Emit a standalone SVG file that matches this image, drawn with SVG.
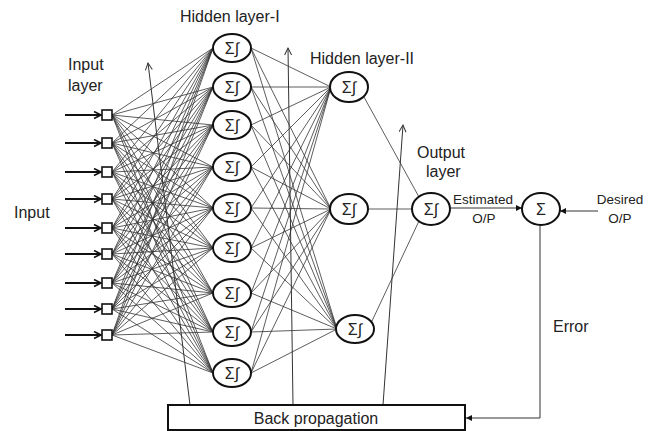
<svg xmlns="http://www.w3.org/2000/svg" width="655" height="431" viewBox="0 0 655 431">
<style>
text{font-family:"Liberation Sans",Arial,sans-serif;fill:#222}
.lbl{font-size:16px}
.sm{font-size:13.5px}
.sig{font-size:16px;text-anchor:middle}
.node{fill:#fff;stroke:#111;stroke-width:2}
.box{fill:#fff;stroke:#111;stroke-width:1.6}
.w{fill:none;stroke:#333;stroke-width:0.8}
.in{fill:none;stroke:#111;stroke-width:2}
.thin{fill:none;stroke:#333;stroke-width:1}
</style>
<defs>
<marker id="ah" markerWidth="10" markerHeight="10" refX="8" refY="4" orient="auto" markerUnits="userSpaceOnUse">
<path d="M1,0.5 L8,4 L1,7.5" fill="none" stroke="#111" stroke-width="1.6"/>
</marker>
<marker id="up" markerWidth="10" markerHeight="10" refX="8" refY="4" orient="auto" markerUnits="userSpaceOnUse">
<path d="M1,0.5 L8,4 L1,7.5" fill="none" stroke="#333" stroke-width="1"/>
</marker>
<marker id="tri" markerWidth="8" markerHeight="8" refX="6" refY="3" orient="auto" markerUnits="userSpaceOnUse">
<path d="M0,0 L6,3 L0,6Z" fill="#111"/>
</marker>
</defs>

<g id="connectors">
<path class="w" d="M112 115L213 48M112 115L213 87M112 115L213 125M112 115L213 167M112 115L213 208M112 115L213 248M112 115L213 293M112 115L213 332M112 115L213 373"/>
<path class="w" d="M112 143L213 48M112 143L213 87M112 143L213 125M112 143L213 167M112 143L213 208M112 143L213 248M112 143L213 293M112 143L213 332M112 143L213 373"/>
<path class="w" d="M112 172L213 48M112 172L213 87M112 172L213 125M112 172L213 167M112 172L213 208M112 172L213 248M112 172L213 293M112 172L213 332M112 172L213 373"/>
<path class="w" d="M112 199L213 48M112 199L213 87M112 199L213 125M112 199L213 167M112 199L213 208M112 199L213 248M112 199L213 293M112 199L213 332M112 199L213 373"/>
<path class="w" d="M112 228L213 48M112 228L213 87M112 228L213 125M112 228L213 167M112 228L213 208M112 228L213 248M112 228L213 293M112 228L213 332M112 228L213 373"/>
<path class="w" d="M112 254L213 48M112 254L213 87M112 254L213 125M112 254L213 167M112 254L213 208M112 254L213 248M112 254L213 293M112 254L213 332M112 254L213 373"/>
<path class="w" d="M112 283L213 48M112 283L213 87M112 283L213 125M112 283L213 167M112 283L213 208M112 283L213 248M112 283L213 293M112 283L213 332M112 283L213 373"/>
<path class="w" d="M112 309L213 48M112 309L213 87M112 309L213 125M112 309L213 167M112 309L213 208M112 309L213 248M112 309L213 293M112 309L213 332M112 309L213 373"/>
<path class="w" d="M112 335L213 48M112 335L213 87M112 335L213 125M112 335L213 167M112 335L213 208M112 335L213 248M112 335L213 293M112 335L213 332M112 335L213 373"/>
<path class="w" d="M251 48L331 87M251 48L331 209M251 48L337 329M251 87L331 87M251 87L331 209M251 87L337 329M251 125L331 87M251 125L331 209M251 125L337 329M251 167L331 87M251 167L331 209M251 167L337 329M251 208L331 87M251 208L331 209M251 208L337 329M251 248L331 87M251 248L331 209M251 248L337 329M251 293L331 87M251 293L331 209M251 293L337 329M251 332L331 87M251 332L331 209M251 332L337 329M251 373L331 87M251 373L331 209M251 373L337 329"/>
<path class="w" d="M364 97L419 197M368 209L412 209M372 321L419 221"/>
<path class="in" marker-end="url(#ah)" d="M65 115L101 115"/>
<path class="in" marker-end="url(#ah)" d="M65 143L101 143"/>
<path class="in" marker-end="url(#ah)" d="M65 172L101 172"/>
<path class="in" marker-end="url(#ah)" d="M65 199L101 199"/>
<path class="in" marker-end="url(#ah)" d="M65 228L101 228"/>
<path class="in" marker-end="url(#ah)" d="M65 254L101 254"/>
<path class="in" marker-end="url(#ah)" d="M65 283L101 283"/>
<path class="in" marker-end="url(#ah)" d="M65 309L101 309"/>
<path class="in" marker-end="url(#ah)" d="M65 335L101 335"/>
<path class="thin" marker-end="url(#up)" d="M190 405L148 63"/>
<path class="thin" marker-end="url(#up)" d="M293 405L288 48"/>
<path class="thin" marker-end="url(#up)" d="M383 405L403 125"/>
<path class="thin" marker-end="url(#tri)" d="M451 208L522 208"/>
<path class="thin" marker-end="url(#tri)" d="M598 211L560 211"/>
<path class="thin" marker-end="url(#tri)" d="M540 225L540 418L466 418"/>
</g>

<g id="input-layer">
<rect class="box" x="102" y="110" width="10" height="10"/>
<rect class="box" x="102" y="138" width="10" height="10"/>
<rect class="box" x="102" y="167" width="10" height="10"/>
<rect class="box" x="102" y="194" width="10" height="10"/>
<rect class="box" x="102" y="223" width="10" height="10"/>
<rect class="box" x="102" y="249" width="10" height="10"/>
<rect class="box" x="102" y="278" width="10" height="10"/>
<rect class="box" x="102" y="304" width="10" height="10"/>
<rect class="box" x="102" y="330" width="10" height="10"/>
</g>

<g id="hidden-layer-1">
<ellipse class="node" cx="232" cy="48" rx="19" ry="14"/><text class="sig" x="232" y="54">Σ∫</text>
<ellipse class="node" cx="232" cy="87" rx="19" ry="14"/><text class="sig" x="232" y="93">Σ∫</text>
<ellipse class="node" cx="232" cy="125" rx="19" ry="14"/><text class="sig" x="232" y="131">Σ∫</text>
<ellipse class="node" cx="232" cy="167" rx="19" ry="14"/><text class="sig" x="232" y="173">Σ∫</text>
<ellipse class="node" cx="232" cy="208" rx="19" ry="14"/><text class="sig" x="232" y="214">Σ∫</text>
<ellipse class="node" cx="232" cy="248" rx="19" ry="14"/><text class="sig" x="232" y="254">Σ∫</text>
<ellipse class="node" cx="232" cy="293" rx="19" ry="14"/><text class="sig" x="232" y="299">Σ∫</text>
<ellipse class="node" cx="232" cy="332" rx="19" ry="14"/><text class="sig" x="232" y="338">Σ∫</text>
<ellipse class="node" cx="232" cy="373" rx="19" ry="14"/><text class="sig" x="232" y="379">Σ∫</text>
</g>

<g id="hidden-layer-2">
<ellipse class="node" cx="349" cy="87" rx="19" ry="15"/><text class="sig" x="349" y="93">Σ∫</text>
<ellipse class="node" cx="349" cy="209" rx="19" ry="15"/><text class="sig" x="349" y="215">Σ∫</text>
<ellipse class="node" cx="355" cy="329" rx="19" ry="14"/><text class="sig" x="355" y="335">Σ∫</text>
</g>

<g id="output-layer">
<ellipse class="node" cx="431" cy="209" rx="19" ry="16"/><text class="sig" x="431" y="215">Σ∫</text>
</g>

<g id="summer">
<ellipse class="node" cx="541" cy="209" rx="19" ry="16"/><text class="sig" x="541" y="215">Σ</text>
</g>

<g id="back-propagation">
<rect x="168" y="405" width="297" height="25" fill="#fff" stroke="#111" stroke-width="2"/>
<text class="lbl" x="316" y="424" text-anchor="middle">Back propagation</text>
</g>

<g id="labels">
<text class="lbl" x="68" y="70">Input</text>
<text class="lbl" x="68" y="91">layer</text>
<text class="lbl" x="14" y="218">Input</text>
<text class="lbl" x="180" y="22">Hidden layer-I</text>
<text class="lbl" x="310" y="64">Hidden layer-II</text>
<text class="lbl" x="417" y="158">Output</text>
<text class="lbl" x="426" y="177">layer</text>
<text class="sm" x="453" y="204">Estimated</text>
<text class="sm" x="484" y="223" text-anchor="middle">O/P</text>
<text class="sm" x="620" y="204" text-anchor="middle">Desired</text>
<text class="sm" x="620" y="223" text-anchor="middle">O/P</text>
<text class="lbl" x="553" y="332">Error</text>
</g>
</svg>
